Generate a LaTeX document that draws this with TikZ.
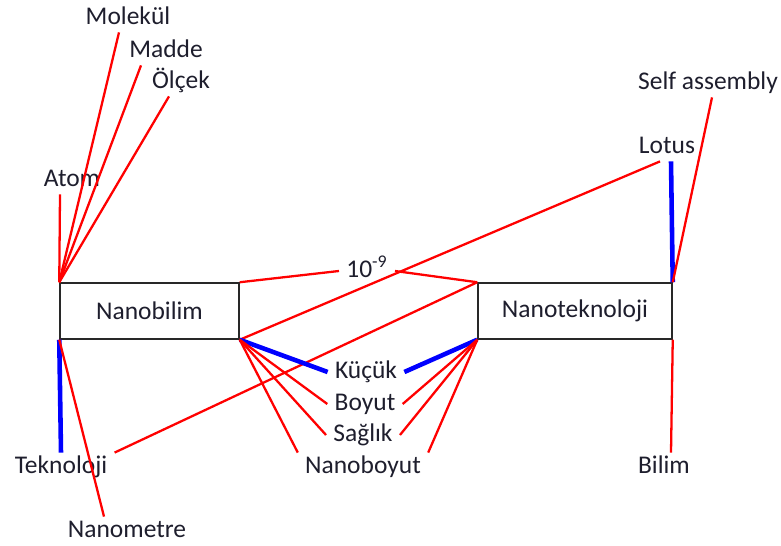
\documentclass[tikz,border=0pt]{standalone}
\usepackage{fontspec}
\usepackage{tikz}
\usepackage{xcolor}
\setmainfont{Carlito}

\definecolor{boxedge}{RGB}{40,40,40}
\definecolor{wordcol}{RGB}{30,30,45}

\begin{document}
\begin{tikzpicture}[
    box/.style={draw=boxedge, line width=0.85pt, fill=white, inner sep=0pt,
        minimum height=1.12cm, font=\fontsize{14.5pt}{17pt}\selectfont, text=wordcol},
    word/.style={inner xsep=4pt, inner ysep=1.5pt, text height=10pt, text depth=3pt,
        font=\fontsize{14.5pt}{17pt}\selectfont, text=wordcol},
    redline/.style={red, line width=1.3pt},
    blueline/.style={blue, line width=2.6pt}]
    \useasboundingbox (0,0) rectangle (15.62,10.92);

    % Boxes
    \node (Nanobilim) at (2.99,4.70) [box, minimum width=3.58cm] {Nanobilim};
    \node (Nanotek) at (11.50,4.70) [box, minimum width=3.88cm] {Nanoteknoloji};

    % Words above
    \node (Molekul) at (2.56,10.56) [word] {Molekül};
    \node (Madde) at (3.32,9.90) [word] {Madde};
    \node (Olcek) at (3.62,9.28) [word] {Ölçek};
    \node (Atom) at (1.44,7.32) [word] {Atom};
    \node (Self) at (14.16,9.26) [word] {Self assembly};
    \node (Lotus) at (13.34,7.98) [word] {Lotus};
    \node (Exp) at (7.34,5.50) [word] {10\textsuperscript{-9}};

    % Words below
    \node (Kucuk) at (7.32,3.48) [word] {Küçük};
    \node (Boyut) at (7.30,2.84) [word] {Boyut};
    \node (Saglik) at (7.26,2.22) [word] {Sağlık};
    \node (Nanoboyut) at (7.26,1.58) [word] {Nanoboyut};
    \node (Tekno) at (1.22,1.58) [word] {Teknoloji};
    \node (Nanometre) at (2.54,0.30) [word] {Nanometre};
    \node (Bilim) at (13.28,1.58) [word] {Bilim};

    % Nanobilim, upper corner
    \draw [redline] (Nanobilim.north west) -- ([xshift=-0.24cm]Atom.south);
    \draw [redline] (Nanobilim.north west) -- ([xshift=-0.18cm]Molekul.south);
    \draw [redline] (Nanobilim.north west) -- ([xshift=-0.50cm]Madde.south);
    \draw [redline] (Nanobilim.north west) -- ([xshift=-0.24cm]Olcek.south);

    % Between the boxes
    \draw [redline] (Nanobilim.north east) -- (Exp.west);
    \draw [redline] (Exp.east) -- (Nanotek.north west);
    \draw [redline] (Nanobilim.south east) -- ([xshift=-0.14cm]Lotus.south);
    \draw [redline] (Nanotek.north west) -- (Tekno.north east);

    % Nanoteknoloji, right corners
    \draw [blueline] ([xshift=0.08cm]Lotus.south) -- (Nanotek.north east);
    \draw [redline] ([xshift=0.08cm]Self.south) -- (Nanotek.north east);
    \draw [redline] (Nanotek.south east) -- ([xshift=0.14cm]Bilim.north);

    % Nanobilim, lower left corner
    \draw [blueline] (Nanobilim.south west) -- (Tekno.north);
    \draw [redline] (Nanobilim.south west) -- ([xshift=-0.46cm]Nanometre.north);

    % Middle words
    \draw [blueline] (Nanobilim.south east) -- (Kucuk.west);
    \draw [redline] (Nanobilim.south east) -- (Boyut.west);
    \draw [redline] (Nanobilim.south east) -- (Saglik.west);
    \draw [redline] (Nanobilim.south east) -- (Nanoboyut.north west);

    \draw [blueline] (Nanotek.south west) -- (Kucuk.east);
    \draw [redline] (Nanotek.south west) -- (Boyut.east);
    \draw [redline] (Nanotek.south west) -- (Saglik.east);
    \draw [redline] (Nanotek.south west) -- (Nanoboyut.north east);
\end{tikzpicture}
\end{document}
